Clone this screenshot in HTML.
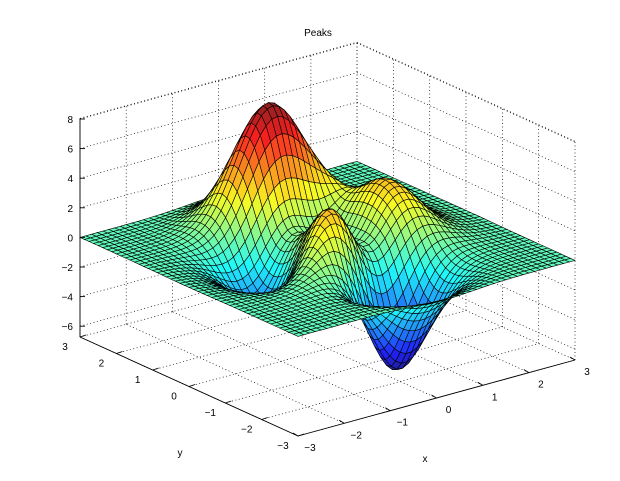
<!DOCTYPE html>
<html><head><meta charset="utf-8">
<style>
html,body{margin:0;padding:0;background:#fff;}
svg{display:block;font-family:"Liberation Sans",sans-serif;}
</style></head>
<body>
<svg id="s" width="620" height="481" viewBox="0 0 620 481" xmlns="http://www.w3.org/2000/svg">
<rect width="620" height="481" fill="#fff"/>
<text x="318" y="36" font-size="10" text-anchor="middle">Peaks</text>
<g id="grid" stroke="#000" stroke-width="0.7" stroke-dasharray="1,2.5" fill="none"></g>
<g id="surf" stroke="#000" stroke-width="0.6"></g>
<g id="axes" stroke="#000" stroke-width="0.9" fill="none"></g>
<g id="labels" font-size="10" fill="#000"></g>
</svg>
<script>
(function(){
var ZMIN=-6.73, ZMAX=8.05, ZS=14.8;
function P(x,y,z){return [298+(x+3)*46.17-(y+3)*36.33, 436-(x+3)*12.67-(y+3)*16.5-(z-ZMIN)*ZS];}
function f(x,y){return 3*(1-x)*(1-x)*Math.exp(-x*x-(y+1)*(y+1))-10*(x/5-x*x*x-Math.pow(y,5))*Math.exp(-x*x-y*y)-1/3*Math.exp(-(x+1)*(x+1)-y*y);}
var NS="http://www.w3.org/2000/svg";
function el(p,t,a){var e=document.createElementNS(NS,t);for(var k in a)e.setAttribute(k,a[k]);p.appendChild(e);return e;}
function line(g,a,b){el(g,'line',{x1:a[0].toFixed(1),y1:a[1].toFixed(1),x2:b[0].toFixed(1),y2:b[1].toFixed(1)});}
var g=document.getElementById('grid');
var zt=[-6,-4,-2,0,2,4,6,8];
for(var i=-3;i<=3;i++){
  line(g,P(i,-3,ZMIN),P(i,3,ZMIN));
  line(g,P(-3,i,ZMIN),P(3,i,ZMIN));
  line(g,P(i,3,ZMIN),P(i,3,ZMAX));
  line(g,P(3,i,ZMIN),P(3,i,ZMAX));
}
zt.forEach(function(z){line(g,P(-3,3,z),P(3,3,z));line(g,P(3,3,z),P(3,-3,z));});
line(g,P(-3,3,ZMAX),P(3,3,ZMAX));line(g,P(3,3,ZMAX),P(3,-3,ZMAX));
var N=49,xs=[],Z=[],mn=1e9,mx=-1e9;
for(var i=0;i<N;i++)xs.push(-3+6*i/(N-1));
for(var j=0;j<N;j++){Z.push([]);for(var i=0;i<N;i++){var v=f(xs[i],xs[j]);Z[j].push(v);if(v<mn)mn=v;if(v>mx)mx=v;}}
function jet(t){function c(v){v=Math.max(0,Math.min(1,v));return Math.round(255*v*0.85+0.15*215);}
  return 'rgb('+c(1.5-Math.abs(4*t-3))+','+c(1.5-Math.abs(4*t-2))+','+c(1.5-Math.abs(4*t-1))+')';}
var quads=[];
for(var j=0;j<N-1;j++)for(var i=0;i<N-1;i++){
  var cx=(xs[i]+xs[i+1])/2,cy=(xs[j]+xs[j+1])/2;
  quads.push({i:i,j:j,d:0.61*cx+0.79*cy});
}
quads.sort(function(a,b){return b.d-a.d;});
var s=document.getElementById('surf'),frag=document.createDocumentFragment();
quads.forEach(function(q){
  var i=q.i,j=q.j;
  var pts=[P(xs[i],xs[j],Z[j][i]),P(xs[i+1],xs[j],Z[j][i+1]),P(xs[i+1],xs[j+1],Z[j+1][i+1]),P(xs[i],xs[j+1],Z[j+1][i])];
  var zc=(Z[j][i]+Z[j][i+1]+Z[j+1][i+1]+Z[j+1][i])/4;
  var p=document.createElementNS(NS,'polygon');
  p.setAttribute('points',pts.map(function(a){return a[0].toFixed(1)+','+a[1].toFixed(1);}).join(' '));
  p.setAttribute('fill',jet((zc-mn)/(mx-mn)));
  frag.appendChild(p);
});
s.appendChild(frag);
var a=document.getElementById('axes');
line(a,P(-3,3,ZMIN),P(-3,3,ZMAX));
line(a,P(-3,3,ZMIN),P(-3,-3,ZMIN));
line(a,P(-3,-3,ZMIN),P(3,-3,ZMIN));
var L=document.getElementById('labels');
function txt(x,y,t,anc){var e=el(L,'text',{x:x.toFixed(1),y:y.toFixed(1),'text-anchor':anc||'middle'});e.textContent=t;}
function lab(v){return v<0?'\u2212'+(-v):''+v;}
zt.forEach(function(z){var p=P(-3,3,z);line(a,p,[p[0]+5,p[1]]);txt(p[0]-7,p[1]+4,lab(z),'end');});
for(var i=-3;i<=3;i++){
  var p=P(-3,i,ZMIN);line(a,p,[p[0]+6,p[1]-2]);txt(p[0]-15,p[1]+13,lab(i));
  var q=P(i,-3,ZMIN);line(a,q,[q[0]-5,q[1]-3]);txt(q[0]+12,q[1]+15,lab(i));
}
txt(425,462,'x');txt(180,456,'y');
})();
</script>
</body></html>
